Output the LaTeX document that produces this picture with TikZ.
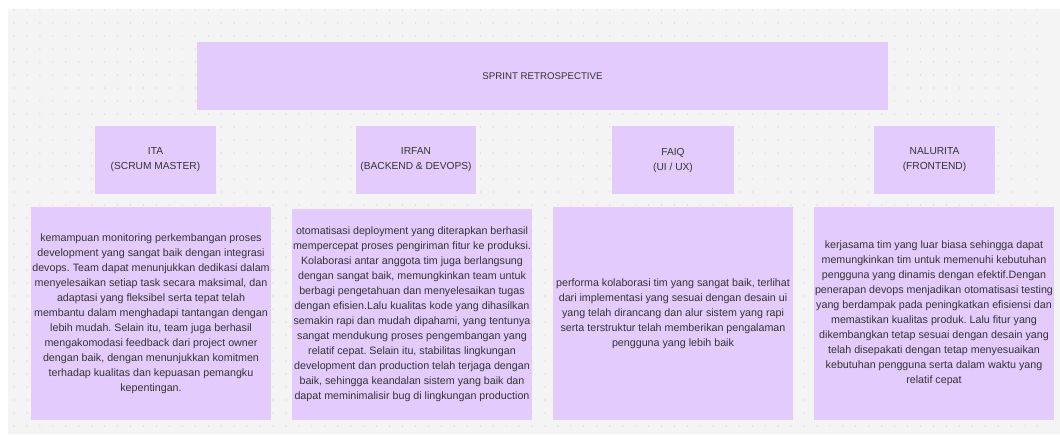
\documentclass[tikz,border=0pt]{standalone}
\usepackage{fontspec}
\setmainfont{Liberation Sans}
\frenchspacing
\definecolor{boxfill}{HTML}{E3CCFD}
\definecolor{bgcol}{HTML}{F4F4F4}
\definecolor{dotcol}{HTML}{CDCDCD}
\definecolor{txt}{HTML}{333333}
\begin{document}
\begin{tikzpicture}[x=1pt,y=-1pt,
  card/.style={fill=boxfill, draw=none, inner sep=0pt, text=txt, align=center,
    font=\fontsize{10.7}{15}\selectfont},
  head/.style={card, font=\fontsize{10.2}{15}\selectfont},
  title/.style={card, font=\fontsize{9.7}{15}\selectfont}]
\useasboundingbox (0,0) rectangle (1060,434);
\fill[bgcol] (8,9) rectangle (1060,434);
\foreach \i in {0,...,79}{
  \foreach \j in {0,...,32}{
    \fill[dotcol] ({14+12.95*\i},{10+13*\j}) circle (0.6);
  }
}
% top
\node[title, minimum width=691pt, minimum height=68pt] (top) at (542.5,76) {SPRINT RETROSPECTIVE};
% roles
\node[head, minimum width=121pt, minimum height=68pt] (ita) at (155.5,160) {ITA\\(SCRUM MASTER)};
\node[head, minimum width=120pt, minimum height=68pt] (irfan) at (416,160) {IRFAN\\(BACKEND \& DEVOPS)};
\node[head, minimum width=122pt, minimum height=68pt] (faiq) at (673,160) {FAIQ\\(UI / UX)};
\node[head, minimum width=121pt, minimum height=68pt] (nal) at (934.5,160) {NALURITA\\(FRONTEND)};
% texts
\node[card, minimum width=240pt, minimum height=213pt] (itat) at (151,313.5) {kemampuan monitoring perkembangan proses\\development yang sangat baik dengan integrasi\\devops. Team dapat menunjukkan dedikasi dalam\\menyelesaikan setiap task secara maksimal, dan\\adaptasi yang fleksibel serta tepat telah\\membantu dalam menghadapi tantangan dengan\\lebih mudah. Selain itu, team juga berhasil\\mengakomodasi feedback dari project owner\\dengan baik, dengan menunjukkan komitmen\\terhadap kualitas dan kepuasan pemangku\\kepentingan.};
\node[card, minimum width=240pt, minimum height=211pt] (irfant) at (412,314.5) {otomatisasi deployment yang diterapkan berhasil\\mempercepat proses pengiriman fitur ke produksi.\\Kolaborasi antar anggota tim juga berlangsung\\dengan sangat baik, memungkinkan team untuk\\berbagi pengetahuan dan menyelesaikan tugas\\dengan efisien.Lalu kualitas kode yang dihasilkan\\semakin rapi dan mudah dipahami, yang tentunya\\sangat mendukung proses pengembangan yang\\relatif cepat. Selain itu, stabilitas lingkungan\\development dan production telah terjaga dengan\\baik, sehingga keandalan sistem yang baik dan\\dapat meminimalisir bug di lingkungan production};
\node[card, minimum width=240pt, minimum height=213pt] (faiqt) at (673,313.5) {performa kolaborasi tim yang sangat baik, terlihat\\dari implementasi yang sesuai dengan desain ui\\yang telah dirancang dan alur sistem yang rapi\\serta terstruktur telah memberikan pengalaman\\pengguna yang lebih baik};
\node[card, minimum width=240pt, minimum height=213pt] (nalt) at (934,313.5) {kerjasama tim yang luar biasa sehingga dapat\\memungkinkan tim untuk memenuhi kebutuhan\\pengguna yang dinamis dengan efektif.Dengan\\penerapan devops menjadikan otomatisasi testing\\yang berdampak pada peningkatkan efisiensi dan\\memastikan kualitas produk. Lalu fitur yang\\dikembangkan tetap sesuai dengan desain yang\\telah disepakati dengan tetap menyesuaikan\\kebutuhan pengguna serta dalam waktu yang\\relatif cepat};
\end{tikzpicture}
\end{document}
